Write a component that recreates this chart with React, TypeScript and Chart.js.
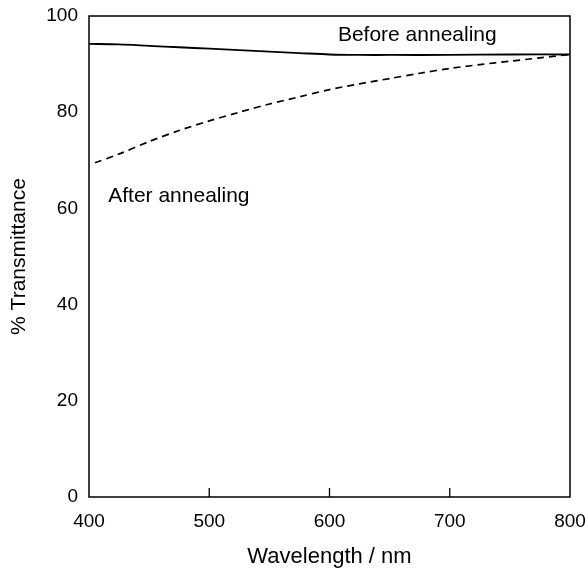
import React, { useEffect, useRef } from "react";
import { Chart, registerables } from "chart.js";

Chart.register(...registerables);

const beforeWavelengths = [400, 425, 450, 475, 500, 525, 550, 575, 600, 625, 650, 700, 750, 800];
const beforeValues = [94.2, 94.1, 93.8, 93.5, 93.2, 92.9, 92.6, 92.3, 92.0, 91.9, 91.9, 91.9, 92.0, 92.0];

const afterWavelengths = [405, 425, 450, 475, 500, 525, 550, 575, 600, 625, 650, 675, 700, 725, 750, 775, 800];
const afterValues = [69.5, 71.3, 73.9, 76.2, 78.2, 80.0, 81.7, 83.2, 84.7, 85.9, 87.0, 88.1, 89.1, 89.9, 90.6, 91.3, 92.0];

const xTickValues = [400, 500, 600, 700, 800];
const yTickValues = [0, 20, 40, 60, 80, 100];

const annotationTexts = ["Before annealing", "After annealing"];
const annotationX = [607, 416];
const annotationY = [94.8, 61.4];

const FONT = "'Liberation Sans', Arial, Helvetica, sans-serif";

const framePlugin = {
  id: "frame",
  afterDraw(chart: any) {
    const { ctx, chartArea, scales } = chart;
    const { left, right, top, bottom } = chartArea;
    ctx.save();
    ctx.strokeStyle = "#000";
    ctx.lineWidth = 1.5;
    ctx.strokeRect(left, top, right - left, bottom - top);
    ctx.lineWidth = 1.3;
    xTickValues.forEach((v) => {
      if (v === xTickValues[0] || v === xTickValues[xTickValues.length - 1]) return;
      const px = scales.x.getPixelForValue(v);
      ctx.beginPath();
      ctx.moveTo(px, bottom);
      ctx.lineTo(px, bottom - 9);
      ctx.stroke();
    });
    ctx.fillStyle = "#000";
    ctx.font = `21px ${FONT}`;
    ctx.textAlign = "left";
    ctx.textBaseline = "alphabetic";
    annotationTexts.forEach((t, i) => {
      ctx.fillText(t, scales.x.getPixelForValue(annotationX[i]), scales.y.getPixelForValue(annotationY[i]));
    });
    ctx.restore();
  },
};

export default function App() {
  const ref = useRef<HTMLCanvasElement>(null);

  useEffect(() => {
    if (!ref.current) return;
    const chart = new Chart(ref.current, {
      type: "line",
      data: {
        datasets: [
          {
            label: "Before annealing",
            data: beforeWavelengths.map((x, i) => ({ x, y: beforeValues[i] })),
            borderColor: "#000",
            borderWidth: 1.8,
            pointRadius: 0,
            tension: 0.3,
            fill: false,
          },
          {
            label: "After annealing",
            data: afterWavelengths.map((x, i) => ({ x, y: afterValues[i] })),
            borderColor: "#000",
            borderWidth: 1.7,
            borderDash: [7, 5],
            pointRadius: 0,
            tension: 0.3,
            fill: false,
          },
        ],
      },
      options: {
        animation: false,
        responsive: false,
        devicePixelRatio: 1,
        layout: { padding: { top: 16, right: 15, left: 0, bottom: 0 } },
        plugins: {
          legend: { display: false },
          tooltip: { enabled: false },
        },
        scales: {
          x: {
            type: "linear",
            min: 400,
            max: 800,
            afterBuildTicks: (scale: any) => {
              scale.ticks = xTickValues.map((v) => ({ value: v }));
            },
            ticks: {
              color: "#000",
              font: { family: FONT, size: 19 },
              padding: 13,
              maxRotation: 0,
            },
            grid: { display: false, drawTicks: false },
            border: { display: false },
            title: {
              display: true,
              text: "Wavelength / nm",
              color: "#000",
              font: { family: FONT, size: 22 },
              padding: { top: 0, bottom: 0 },
            },
            afterFit: (scale: any) => {
              scale.height = 73;
              scale.paddingLeft = 0;
              scale.paddingRight = 0;
            },
          },
          y: {
            type: "linear",
            min: 0,
            max: 100,
            afterBuildTicks: (scale: any) => {
              scale.ticks = yTickValues.map((v) => ({ value: v }));
            },
            ticks: {
              color: "#000",
              font: { family: FONT, size: 19 },
              padding: 11,
            },
            grid: { display: false, drawTicks: false },
            border: { display: false },
            title: {
              display: true,
              text: "% Transmittance",
              color: "#000",
              font: { family: FONT, size: 21 },
              padding: { top: 7, bottom: 0 },
            },
            afterFit: (scale: any) => {
              scale.width = 89;
              scale.paddingTop = 0;
              scale.paddingBottom = 0;
            },
          },
        },
      },
      plugins: [framePlugin],
    });
    return () => chart.destroy();
  }, []);

  return (
    <div style={{ position: "fixed", left: 0, top: 0, width: 585, height: 570, background: "#fff" }}>
      <canvas ref={ref} width={585} height={570} style={{ width: 585, height: 570 }} />
    </div>
  );
}
